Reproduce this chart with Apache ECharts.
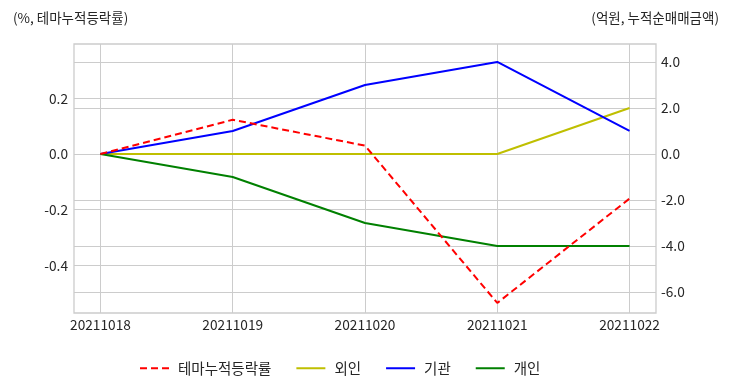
<!DOCTYPE html>
<html>
<head>
<meta charset="utf-8">
<script src="https://cdn.jsdelivr.net/npm/echarts@6/dist/echarts.min.js"></script>
<style>html,body{margin:0;padding:0;background:#fff;}#c{width:732px;height:392px;}</style>
</head>
<body>
<div id="c"></div>
<script>
const categories = ['20211018', '20211019', '20211020', '20211021', '20211022'];
const themeReturn = [0, 0.123, 0.03, -0.535, -0.16];
const foreign = [0, 0, 0, 0, 2.0];
const institution = [0, 1.0, 3.0, 4.0, 1.0];
const individual = [0, -1.0, -3.0, -4.0, -4.0];
const leftTicks = [-0.4, -0.2, 0, 0.2];
const rightTicks = [-6, -4, -2, 0, 2, 4];
const seriesNames = ['테마누적등락률', '외인', '기관', '개인'];

const FONT = '"Noto Sans CJK KR", "Noto Sans", sans-serif';
const TXT = '#262626';
const GRID = '#cccccc';
const pairs = arr => arr.map((v, i) => [i, v]);

const chart = echarts.init(document.getElementById('c'));
chart.setOption({
  animation: false,
  backgroundColor: '#fff',
  textStyle: {fontFamily: FONT},
  title: [
    {text: '(%, 테마누적등락률)', left: 8, top: 6, textStyle: {fontSize: 13.5, fontWeight: 'normal', color: TXT, fontFamily: FONT}},
    {text: '(억원, 누적순매매금액)', right: 8, top: 6, textStyle: {fontSize: 13.5, fontWeight: 'normal', color: TXT, fontFamily: FONT}}
  ],
  grid: {left: 74, right: 76, top: 44, bottom: 79, show: true, borderColor: GRID, borderWidth: 1.3, containLabel: false},
  legend: {
    left: 134, top: 356, itemWidth: 29, itemHeight: 10, itemGap: 24,
    itemStyle: {opacity: 0},
    textStyle: {fontSize: 14.5, color: TXT, fontFamily: FONT, padding: [0, 0, 0, 4]},
    data: seriesNames
  },
  xAxis: {
    type: 'value', min: -0.2, max: 4.2,
    axisLine: {show: false}, axisTick: {show: false, customValues: [0, 1, 2, 3, 4]},
    axisLabel: {customValues: [0, 1, 2, 3, 4], formatter: v => categories[Math.round(v)] || '', fontSize: 13.7, color: TXT, margin: 5, fontFamily: FONT},
    splitLine: {show: true, lineStyle: {color: GRID, width: 1}}
  },
  yAxis: [
    {
      type: 'value', min: -0.571, max: 0.395, position: 'left',
      axisLine: {show: false}, axisTick: {show: false, customValues: leftTicks},
      axisLabel: {customValues: leftTicks, formatter: v => v.toFixed(1), fontSize: 13.7, color: TXT, margin: 6, fontFamily: FONT},
      splitLine: {show: true, lineStyle: {color: GRID, width: 1}}
    },
    {
      type: 'value', min: -6.91, max: 4.78, position: 'right',
      axisLine: {show: false}, axisTick: {show: false, customValues: rightTicks},
      axisLabel: {customValues: rightTicks, formatter: v => v.toFixed(1), fontSize: 13.7, color: TXT, margin: 5, fontFamily: FONT},
      splitLine: {show: true, lineStyle: {color: GRID, width: 1}}
    }
  ],
  series: [
    {name: seriesNames[0], type: 'line', yAxisIndex: 0, data: pairs(themeReturn), symbol: 'none', color: '#ff0000', lineStyle: {color: '#ff0000', width: 2, type: [7, 4]}, z: 5},
    {name: seriesNames[1], type: 'line', yAxisIndex: 1, data: pairs(foreign), symbol: 'none', color: '#bfbf00', lineStyle: {color: '#bfbf00', width: 2}},
    {name: seriesNames[2], type: 'line', yAxisIndex: 1, data: pairs(institution), symbol: 'none', color: '#0000ff', lineStyle: {color: '#0000ff', width: 2}},
    {name: seriesNames[3], type: 'line', yAxisIndex: 1, data: pairs(individual), symbol: 'none', color: '#008000', lineStyle: {color: '#008000', width: 2}}
  ]
});
</script>
</body>
</html>
